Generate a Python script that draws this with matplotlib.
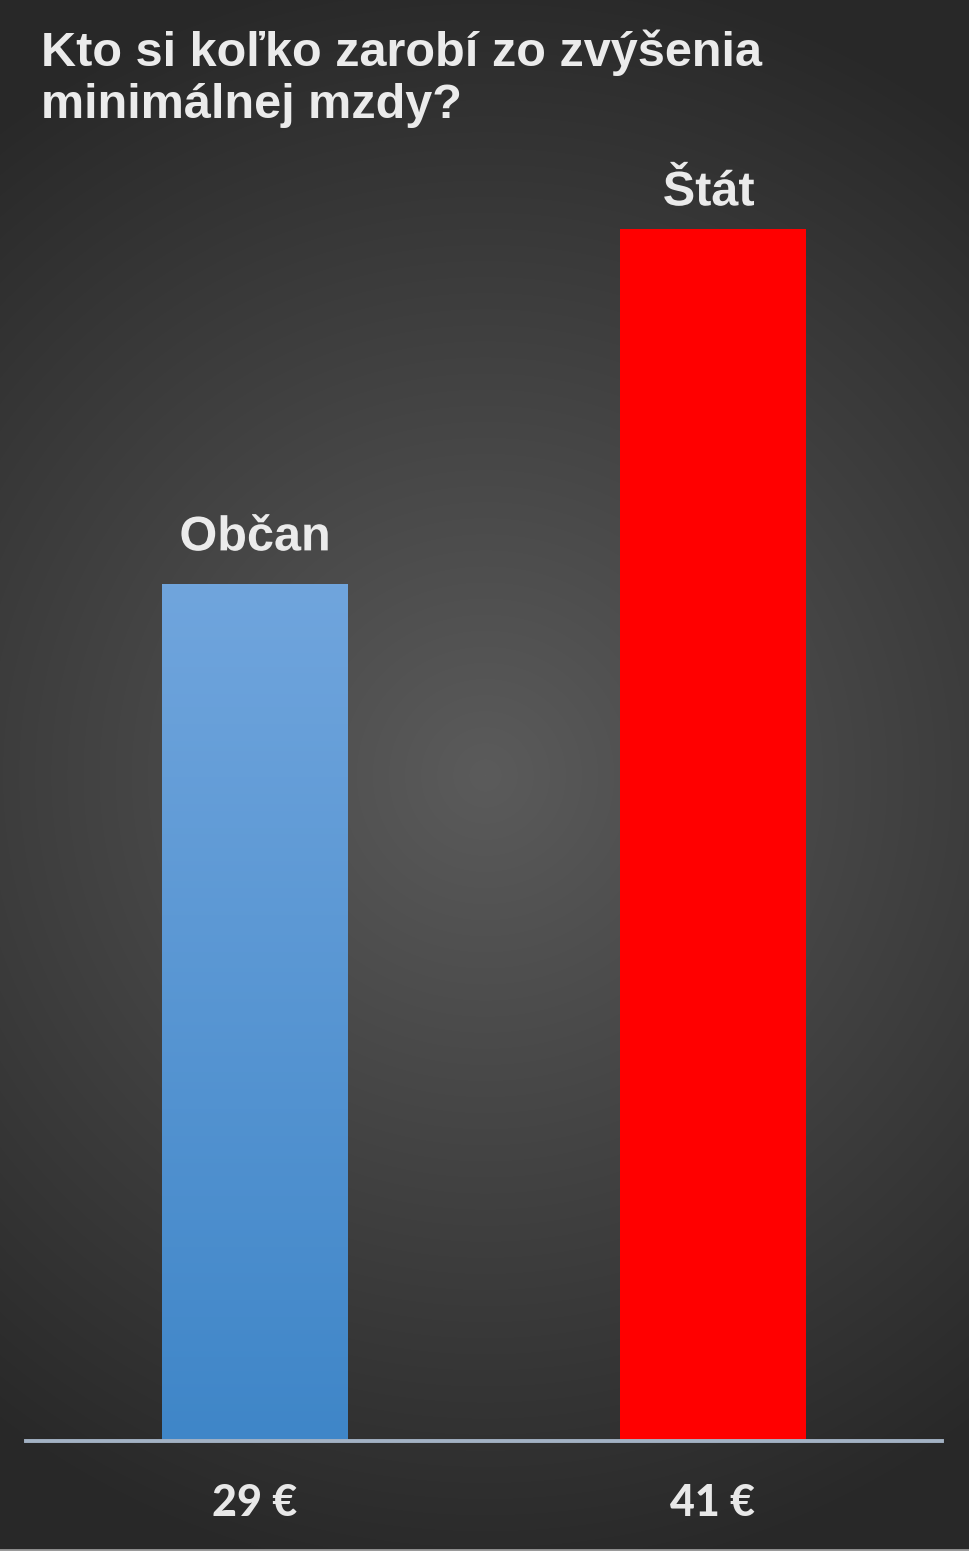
import numpy as np
import matplotlib
matplotlib.use("Agg")
from matplotlib import pyplot as plt
import matplotlib.patheffects as pe

categories = ["Občan", "Štát"]
values = [29, 41]
value_labels = ["29 €", "41 €"]
title = "Kto si koľko zarobí zo zvýšenia\nminimálnej mzdy?"

W, H = 970, 1551
fig = plt.figure(figsize=(W / 100, H / 100), dpi=100)

# pozadie - radialny gradient
bg = fig.add_axes([0, 0, 1, 1])
yy, xx = np.mgrid[0:H, 0:W]
d = np.sqrt((xx - 485) ** 2 + (yy - 775) ** 2)
t = np.clip(d / 820, 0, 1)
c = (0x5b - (0x5b - 0x28) * t) / 255
img = np.dstack([c, c, c])
bg.imshow(img, aspect="auto", extent=[0, 1, 0, 1], origin="upper")
bg.axhline(0.0008, color="#9a9a9a", lw=2)
bg.set_xlim(0, 1)
bg.set_ylim(0, 1)
bg.axis("off")

# graf
left, right = 26 / W, 942 / W
bottom = (H - 1441) / H
top = (H - 150) / H
ax = fig.add_axes([left, bottom, right - left, top - bottom])
ax.patch.set_alpha(0)
ymax = 41 * (1441 - 150) / (1441 - 229)
ax.set_xlim(-0.5, 1.5)
ax.set_ylim(0, ymax)
ax.axis("off")

x = np.arange(len(values))
width = 0.404
shadow = [pe.SimplePatchShadow(offset=(0, -3), shadow_rgbFace="black", alpha=0.35), pe.Normal()]

# modry stlpec s gradientom
b0 = ax.bar(x[0], values[0], width, color="none", zorder=2)[0]
grad = np.linspace(0, 1, 256).reshape(-1, 1)
top_col = np.array([0x70, 0xa5, 0xdd]) / 255
bot_col = np.array([0x3f, 0x86, 0xc8]) / 255
gimg = top_col * (1 - grad[..., None]) + bot_col * grad[..., None]
im = ax.imshow(gimg, aspect="auto", zorder=2,
               extent=[x[0] - width / 2, x[0] + width / 2, 0, values[0]], origin="upper")
im.set_clip_path(b0)
ax.bar(x[1], values[1], width, color="#ff0000", zorder=2, path_effects=shadow)
ax.set_xlim(-0.5, 1.5)
ax.set_ylim(0, ymax)

ax.axhline(0, color="#a3b2c4", lw=2.8, zorder=3, clip_on=False)

# popisky nad stlpcami (odstup v bodoch)
gaps = [33, 26]
for xi, v, cat, g in zip(x, values, categories, gaps):
    ax.annotate(cat, (xi, v), xytext=(-3 * xi, g), textcoords="offset points",
                ha="center", va="center", fontsize=35, fontweight="bold",
                color="#ebebeb", family="Liberation Sans",
                path_effects=[pe.SimpleLineShadow(offset=(2, -2), alpha=0.5), pe.Normal()])

for xi, lab in zip(x, value_labels):
    fig.text(left + (xi + 0.5) / 2 * (right - left), (H - 1503) / H, lab,
             ha="center", va="center", fontsize=31, fontweight=900,
             color="#e8e8e8", family="Lato")

fig.text(41 / W, (H - 29) / H, title, ha="left", va="top", fontsize=35,
         fontweight="bold", color="#ebebeb", family="Liberation Sans",
         linespacing=1.2)

fig.savefig("out.png", dpi=100)
